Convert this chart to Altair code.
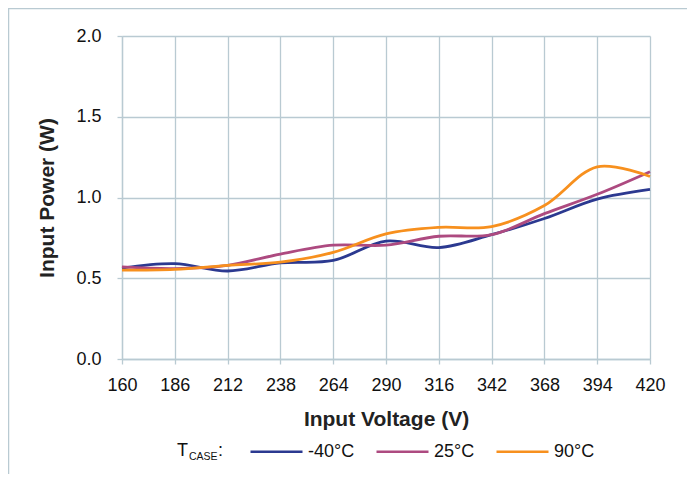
import altair as alt
import pandas as pd

voltage = [160, 186, 212, 238, 264, 290, 316, 342, 368, 394, 420]
p_m40 = [0.563, 0.59, 0.545, 0.595, 0.61, 0.73, 0.69, 0.77, 0.87, 0.99, 1.05]
p_25 = [0.57, 0.56, 0.58, 0.65, 0.705, 0.705, 0.76, 0.77, 0.90, 1.02, 1.16]
p_90 = [0.55, 0.555, 0.58, 0.60, 0.66, 0.775, 0.815, 0.82, 0.95, 1.19, 1.13]
series = ["-40°C", "25°C", "90°C"]
colors = ["#2b3990", "#ad4a80", "#f7901e"]
y_ticks = [0.0, 0.5, 1.0, 1.5, 2.0]

rows = []
for name, vals in zip(series, [p_m40, p_25, p_90]):
    for v, p in zip(voltage, vals):
        rows.append({"Voltage": v, "Power": p, "Temp": name})
df = pd.DataFrame(rows)

GRID = "#b9cad2"
FONT = "Liberation Sans"

lines = alt.Chart(df).mark_line(
    interpolate="catmull-rom", strokeWidth=2.8
).encode(
    x=alt.X("Voltage:Q",
            scale=alt.Scale(domain=[160, 420], nice=False, zero=False),
            axis=alt.Axis(values=voltage, title="Input Voltage (V)", format="d",
                          grid=True, gridColor=GRID, gridWidth=1.3,
                          tickColor=GRID, tickSize=5, tickWidth=1.3,
                          domainColor=GRID, domainWidth=1.3, labelFlush=False,
                          labelFontSize=18, labelFont=FONT, labelColor="#111",
                          labelPadding=12, titleFontSize=21, titleFont=FONT,
                          titleFontWeight="bold", titleColor="#222",
                          titlePadding=14)),
    y=alt.Y("Power:Q",
            scale=alt.Scale(domain=[0, 2], nice=False),
            axis=alt.Axis(values=y_ticks, format=".1f", title="Input Power (W)",
                          grid=True, gridColor=GRID, gridWidth=1.3,
                          tickColor=GRID, tickSize=5, tickWidth=1.3,
                          domainColor=GRID, domainWidth=1.3, labelFlush=False,
                          labelFontSize=18, labelFont=FONT, labelColor="#111",
                          labelPadding=16, titleFontSize=21, titleFont=FONT,
                          titleFontWeight="bold", titleColor="#222",
                          titlePadding=18)),
    color=alt.Color("Temp:N",
                    scale=alt.Scale(domain=series, range=colors),
                    sort=series,
                    legend=alt.Legend(orient="none", legendX=127, legendY=388,
                                      direction="horizontal", title=None,
                                      symbolType="stroke", symbolSize=2704,
                                      symbolStrokeWidth=2.5,
                                      labelFontSize=18, labelFont=FONT,
                                      labelColor="#111", labelOffset=4,
                                      columnPadding=16)),
)

one = pd.DataFrame({"a": [0]})
frame = alt.Chart(one).mark_rect(fill=None, stroke=GRID, strokeWidth=1.5).encode(
    x=alt.value(-113.5), x2=alt.value(700), y=alt.value(-27.5), y2=alt.value(600)
)
t_main = alt.Chart(one).mark_text(text="T", align="left", baseline="alphabetic",
                                  fontSize=18, font=FONT, color="#111").encode(
    x=alt.value(55), y=alt.value(420))
t_sub = alt.Chart(one).mark_text(text="CASE", align="left", baseline="alphabetic",
                                 fontSize=10.5, font=FONT, color="#111").encode(
    x=alt.value(67), y=alt.value(424))
t_colon = alt.Chart(one).mark_text(text=":", align="left", baseline="alphabetic",
                                   fontSize=18, font=FONT, color="#111").encode(
    x=alt.value(96), y=alt.value(420))

chart = alt.layer(frame, lines, t_main, t_sub, t_colon).properties(
    width=528, height=323,
    autosize=alt.AutoSizeParams(type="none"),
    padding={"left": 114, "top": 28, "right": 37, "bottom": 115},
).configure_view(stroke=None)

chart.save("out.html", embed_options={"renderer": "svg", "actions": False})
